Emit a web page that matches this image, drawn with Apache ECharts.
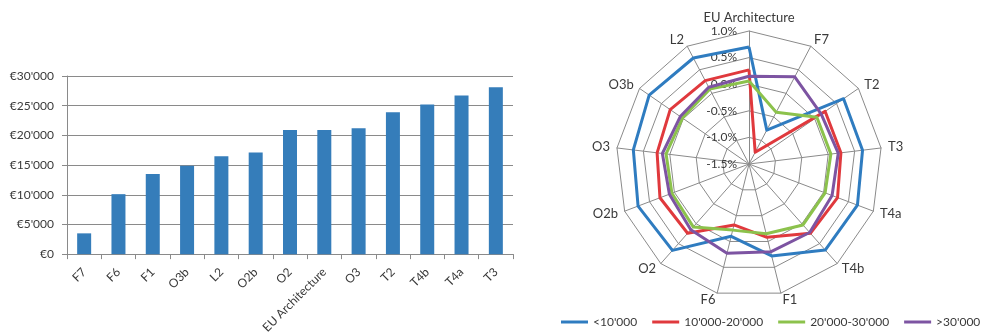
<!DOCTYPE html>
<html>
<head>
<meta charset="utf-8">
<script src="https://cdn.jsdelivr.net/npm/echarts@6/dist/echarts.min.js"></script>
<style>
  html, body { margin: 0; padding: 0; background: #ffffff; }
  #chart { width: 990px; height: 336px; }
</style>
</head>
<body>
<div id="chart"></div>
<script>
// Cost per region, ascending
const barCategories = ['F7', 'F6', 'F1', 'O3b', 'L2', 'O2b', 'O2', 'EU Architecture', 'O3', 'T2', 'T4b', 'T4a', 'T3'];
const barValues = [3500, 10100, 13500, 14900, 16500, 17100, 20900, 20900, 21200, 23900, 25200, 26700, 28100];

// Radar spokes, clockwise from the top
const radarAxes = ['EU Architecture', 'F7', 'T2', 'T3', 'T4a', 'T4b', 'F1', 'F6', 'O2', 'O2b', 'O3', 'O3b', 'L2'];
const radarMin = -1.5;
const radarMax = 1.0;

// Percentage deviation by cost band (same spoke order as radarAxes)
const seriesNames = ["<10'000", "10'000-20'000", "20'000-30'000", ">30'000"];
const bandUnder10k = [0.70, -0.78, 0.66, 0.65, 0.68, 0.66, 0.28, -0.10, 0.67, 0.73, 0.69, 0.78, 0.75];
const band10to20k  = [0.27, -1.25, 0.24, 0.24, 0.28, 0.24, -0.08, -0.32, 0.24, 0.29, 0.24, 0.30, 0.27];
const band20to30k  = [0.06, -0.40, 0.05, 0.05, 0.03, 0.03, -0.15, -0.22, 0.08, 0.05, 0.07, 0.02, 0.09];
const bandOver30k  = [0.15, 0.35, 0.15, 0.19, 0.17, 0.22, 0.20, 0.23, 0.15, 0.10, 0.14, 0.07, 0.13];
const bandValues = [bandUnder10k, band10to20k, band20to30k, bandOver30k];
const bandColors = ['#2f7cc0', '#e0393d', '#8cc24c', '#7d54a2'];

const FONT = 'Lato';
const TEXT = '#3a3a3a';
const GRID = '#8a8a8a';

function euro(v) {
  if (v === 0) return '€0';
  const s = String(v);
  return '€' + s.slice(0, s.length - 3) + "'" + s.slice(-3);
}

// ECharts lays radar spokes out counter-clockwise; keep the first spoke on
// top and reverse the rest so the order runs clockwise.
function clockwise(arr) {
  return [arr[0]].concat(arr.slice(1).reverse());
}

const chart = echarts.init(document.getElementById('chart'), null, { renderer: 'canvas' });

chart.setOption({
  animation: false,
  textStyle: { fontFamily: FONT },
  grid: { left: 67, right: 477, top: 76, bottom: 81, containLabel: false },
  xAxis: {
    type: 'category',
    data: barCategories,
    axisLine: { lineStyle: { color: GRID, width: 1 } },
    axisTick: { show: true, length: 5, lineStyle: { color: GRID } },
    axisLabel: { rotate: 45, interval: 0, margin: 16, color: TEXT, fontSize: 12, fontFamily: FONT }
  },
  yAxis: {
    type: 'value',
    min: 0, max: 30000, interval: 5000,
    axisLine: { show: true, lineStyle: { color: GRID, width: 1 } },
    axisTick: { show: true, length: 5, lineStyle: { color: GRID } },
    splitLine: { lineStyle: { color: GRID, width: 1 } },
    axisLabel: { formatter: euro, margin: 13, color: TEXT, fontSize: 12, fontFamily: FONT }
  },
  radar: {
    center: [749, 164],
    radius: 133,
    startAngle: 90,
    shape: 'polygon',
    splitNumber: 5,
    nameGap: 7,
    axisName: { color: TEXT, fontSize: 13, fontFamily: FONT },
    axisLine: { lineStyle: { color: GRID, width: 1 } },
    splitLine: { lineStyle: { color: GRID, width: 1 } },
    splitArea: { show: false },
    axisLabel: { show: false },
    indicator: clockwise(radarAxes).map((name, i) => {
      const ind = { name: name, min: radarMin, max: radarMax };
      if (i === 0) {
        ind.axisLabel = {
          show: true, margin: 12, color: TEXT, fontSize: 12, fontFamily: FONT,
          formatter: v => v.toFixed(1) + '%'
        };
      }
      return ind;
    })
  },
  legend: {
    left: 561,
    top: 316,
    padding: 0,
    icon: 'rect',
    itemWidth: 27,
    itemHeight: 3,
    itemGap: 15,
    textStyle: { color: TEXT, fontSize: 12, fontFamily: FONT },
    data: seriesNames
  },
  series: [
    {
      type: 'bar',
      data: barValues,
      barWidth: 14,
      itemStyle: { color: '#357dba' },
      silent: true
    },
    {
      type: 'radar',
      symbol: 'none',
      silent: true,
      data: seriesNames.map((name, k) => ({
        name: name,
        value: clockwise(bandValues[k]),
        lineStyle: { color: bandColors[k], width: 3 },
        itemStyle: { color: bandColors[k] }
      }))
    }
  ]
});
</script>
</body>
</html>
